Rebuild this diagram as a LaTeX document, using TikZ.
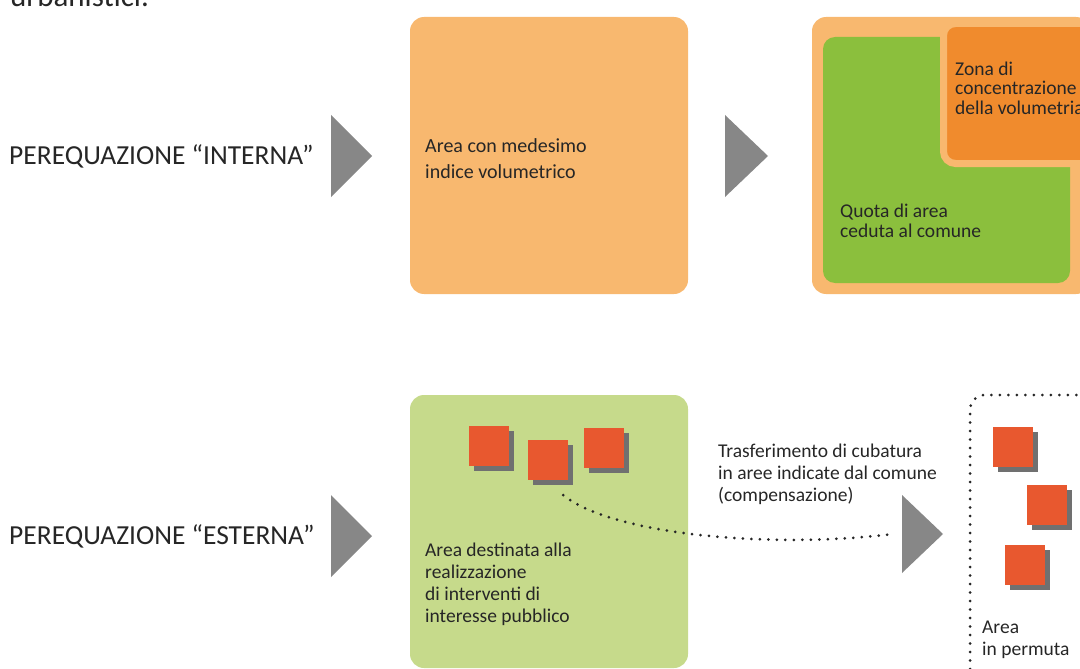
\documentclass[tikz,border=0pt]{standalone}
\usepackage{fontspec}
\setmainfont{Carlito}
\usetikzlibrary{positioning, shadows}

\definecolor{lightorange}{HTML}{F8B86F}
\definecolor{deeporange}{HTML}{F08B2D}
\definecolor{grassgreen}{HTML}{8BBF3D}
\definecolor{palegreen}{HTML}{C6DA8B}
\definecolor{brickred}{HTML}{E8582F}
\definecolor{shadowgrey}{HTML}{707070}
\definecolor{pointergrey}{HTML}{878787}
\definecolor{inkgrey}{HTML}{262626}

\begin{document}
\begin{tikzpicture}[
    x=1pt, y=-1pt,
    every node/.style={inner sep=0pt, text=inkgrey},
    heading/.style={anchor=west, font=\fontsize{27.5}{32}\selectfont},
    caption/.style={anchor=base west, align=left, font=\fontsize{19.5}{22}\selectfont},
    area/.style={rounded corners=14pt, minimum width=278pt, minimum height=277pt},
    pointer/.style={fill=pointergrey},
    block/.style={fill=brickred, minimum size=40pt,
        drop shadow={shadow xshift=5pt, shadow yshift=-5pt, fill=shadowgrey, opacity=1}},
    trail/.style={draw=inkgrey, line width=3pt, line cap=round, dash pattern=on 0pt off 8.5pt}
]
\clip (0,0) rectangle (1080,669);

% end of the text line above
\node[anchor=base west, font=\fontsize{31}{36}\selectfont] (urb) at (10,7) {urbanistici.};

% internal equalisation
\node[heading] (interna) at (9,156) {PEREQUAZIONE “INTERNA”};
\fill[pointer] (331,115) -- (372,156) -- (331,197) -- cycle;

\node[area, fill=lightorange] (volume) at (549,155.5) {};
% base anchor sits on the last line
\node[caption, font=\fontsize{20}{26}\selectfont] (volumetext) at (425,178)
    {Area con medesimo\\indice volumetrico};

\fill[pointer] (725,115) -- (768,156) -- (725,197) -- cycle;

\node[area, fill=lightorange] (share) at (951,155.5) {};
\node[area, fill=grassgreen, rounded corners=12pt, minimum width=247pt, minimum height=246pt]
    (ceded) at (946.5,160) {};
\node[fill=deeporange, draw=lightorange, line width=7pt, rounded corners=12pt,
    minimum width=153pt, minimum height=140pt] (zone) at (1020,93.5) {};
\node[caption, font=\fontsize{19.5}{19.5}\selectfont] (zonetext) at (955,114)
    {Zona di\\concentrazione\\della volumetria};
\node[caption, font=\fontsize{19.5}{20}\selectfont] (cededtext) at (840,237)
    {Quota di area\\ceduta al comune};

% external equalisation
\node[heading] (esterna) at (9,536) {PEREQUAZIONE “ESTERNA”};
\fill[pointer] (331,495) -- (372,536) -- (331,577) -- cycle;

\node[area, fill=palegreen, minimum height=273pt] (public) at (549,531.5) {};
\node[block] (sqa) at (489,446) {};
\node[block] (sqb) at (548,460) {};
\node[block] (sqc) at (604,448) {};
\node[caption] (publictext) at (425,622)
    {Area destinata alla\\realizzazione\\di interventi di\\interesse pubblico};

\node[caption] (transfer) at (718,501)
    {Trasferimento di cubatura\\in aree indicate dal comune\\(compensazione)};
\coordinate (gate) at (902,534);
\fill[pointer] (gate) ++(0,-39) -- ++(41,39) -- ++(-41,39) -- cycle;
\draw[trail] ([xshift=-5pt, yshift=-15pt]sqb.south east)
    .. controls +(50,40) and +(-120,15) .. ([xshift=-9pt]gate);

% swap area
\draw[trail, rounded corners=15pt] (970,720) -- (970,395) -- (1120,395);
\node[block] (sqd) at (1013,447) {};
\node[block] (sqe) at (1047,505) {};
\node[block] (sqf) at (1025,565) {};
\node[caption] (swaptext) at (982,655) {Area\\in permuta};
\end{tikzpicture}
\end{document}
